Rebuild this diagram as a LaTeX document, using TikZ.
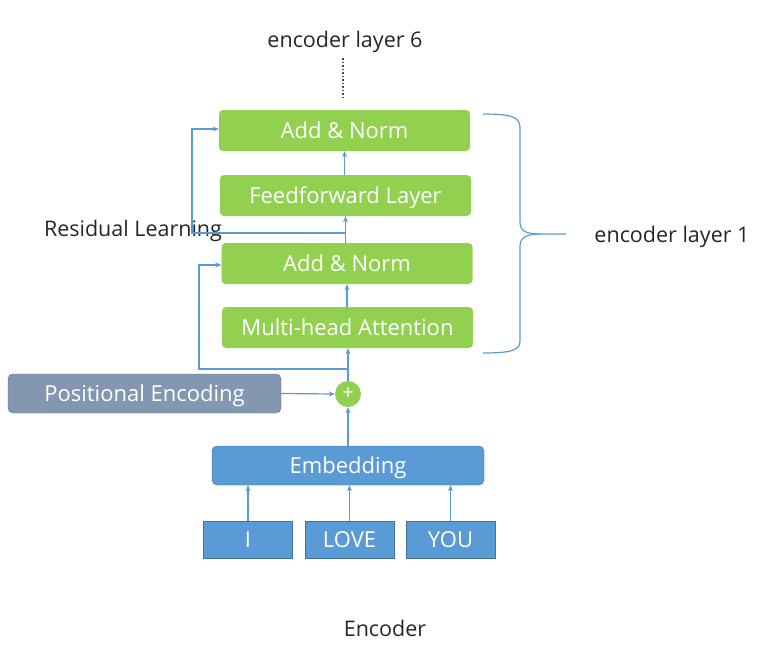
\documentclass[tikz,border=0pt]{standalone}
\usepackage{fontspec}
\setmainfont{Open Sans}
\usetikzlibrary{arrows.meta}
\definecolor{layergreen}{HTML}{92D050}
\definecolor{embblue}{HTML}{5B9BD5}
\definecolor{embedge}{HTML}{41719C}
\definecolor{posgray}{HTML}{8497B0}
\definecolor{posedge}{HTML}{5A6E8C}

\begin{document}
\begin{tikzpicture}[x=1pt,y=-1pt,
  layer/.style={fill=layergreen, rounded corners=4pt, text=white, minimum width=251pt, minimum height=41pt, text height=16pt, text depth=0pt, font=\fontsize{22}{22}\selectfont},
  embbox/.style={fill=embblue, draw=embedge, rounded corners=5pt, text=white, minimum height=39pt, text height=16pt, text depth=0pt, font=\fontsize{22}{22}\selectfont},
  token/.style={fill=embblue, draw=embedge, text=white, minimum width=89pt, minimum height=37pt, text height=16pt, text depth=0pt, font=\fontsize{22}{22}\selectfont},
  link/.style={embblue, line width=1.2pt, -{Stealth[length=6pt,width=5pt]}},
  plain/.style={text=black!85, font=\fontsize{21.5}{21.5}\selectfont}]
\useasboundingbox (0,0) rectangle (772,646);

% encoder stack
\node[layer] (norm2) at (344.5,130.5) {Add \& Norm};
\node[layer] (ffn) at (345.5,195.5) {Feedforward Layer};
\node[layer] (norm1) at (347,263.5) {Add \& Norm};
\node[layer] (mha) at (347.5,327.5) {Multi-head Attention};

% input side
\node[circle, fill=layergreen, text=white, minimum size=26pt, inner sep=0pt, font=\fontsize{20}{20}\selectfont] (plus) at (348,394) {+};
\node[embbox, fill=posgray, draw=posedge, minimum width=273pt] (pos) at (144.5,393.5) {Positional Encoding};
\node[embbox, minimum width=272pt] (emb) at (348,465.5) {Embedding};
\node[token] (tokI) at (248,539.5) {I};
\node[token] (tokLove) at (349.5,539.5) {LOVE};
\node[token] (tokYou) at (450.5,539.5) {YOU};

% labels
\node[plain] (top) at (345,42) {encoder layer 6};
\node[plain] (res) at (133,231) {Residual Learning};
\node[plain] (enc1) at (672,237) {encoder layer 1};
\node[plain] (title) at (385,628) {Encoder};

\draw[black!70, line width=1.5pt, dotted] (343,58) -- (343,97);

% connectors
\draw[link] (tokI.north) -- (tokI.north |- emb.south);
\draw[link] (tokLove.north) -- (tokLove.north |- emb.south);
\draw[link] (tokYou.north) -- (tokYou.north |- emb.south);
\draw[link] (emb.north -| plus) -- (plus.south);
\draw[link] (pos.east) -- (plus.west);
\draw[link] (plus.north) -- (plus.north |- mha.south);
\draw[link] (mha.north -| norm1) -- (norm1.south);
\draw[link] (norm1.north -| ffn) -- (ffn.south);
\draw[link] (ffn.north -| norm2) -- (norm2.south);

% residual paths
\coordinate (skipA) at (348,369);
\coordinate (skipB) at (346,233);
\draw[link] (skipA) -| (199,265) -- (norm1.west |- 0,265);
\draw[link] (skipB) -| (192,129) -- (norm2.west |- 0,129);

% brace
\draw[embblue, line width=1.2pt] (483,114) .. controls (512,114) and (520,117) .. (520,128)
  -- (520,222) .. controls (520,231) and (526,234) .. (540,234) -- (566,234);
\draw[embblue, line width=1.2pt] (540,234) .. controls (526,234) and (520,238) .. (520,246)
  -- (520,341) .. controls (520,350) and (512,353) .. (483,353);
\end{tikzpicture}
\end{document}
